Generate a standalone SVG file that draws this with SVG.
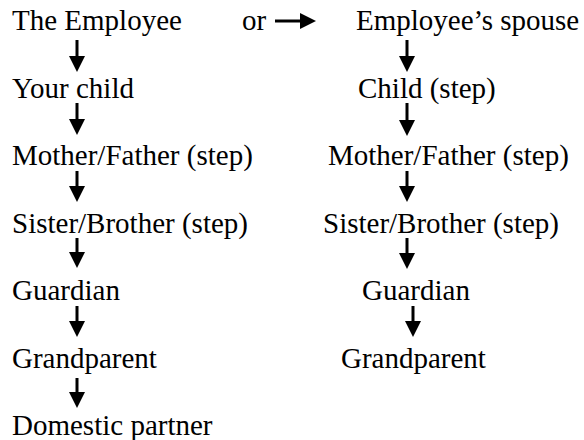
<svg xmlns="http://www.w3.org/2000/svg" width="584" height="440" viewBox="0 0 584 440">
<rect width="584" height="440" fill="#fff"/>
<g id="n-employee"><text x="12" y="30" font-family="Liberation Serif" font-size="29">The Employee</text></g>
<g id="n-or"><text x="242" y="30" font-family="Liberation Serif" font-size="29">or</text></g>
<g id="n-spouse"><text x="356" y="30" font-family="Liberation Serif" font-size="29">Employee’s spouse</text></g>
<g id="n-yourchild"><text x="12" y="97.5" font-family="Liberation Serif" font-size="29">Your child</text></g>
<g id="n-childstep"><text x="358" y="97.5" font-family="Liberation Serif" font-size="29">Child (step)</text></g>
<g id="n-mother-l"><text x="12" y="165" font-family="Liberation Serif" font-size="29">Mother/Father (step)</text></g>
<g id="n-mother-r"><text x="328" y="165" font-family="Liberation Serif" font-size="29">Mother/Father (step)</text></g>
<g id="n-sister-l"><text x="12" y="232.5" font-family="Liberation Serif" font-size="29">Sister/Brother (step)</text></g>
<g id="n-sister-r"><text x="323" y="232.5" font-family="Liberation Serif" font-size="29">Sister/Brother (step)</text></g>
<g id="n-guardian-l"><text x="12" y="300" font-family="Liberation Serif" font-size="29">Guardian</text></g>
<g id="n-guardian-r"><text x="362" y="300" font-family="Liberation Serif" font-size="29">Guardian</text></g>
<g id="n-grand-l"><text x="12" y="367.5" font-family="Liberation Serif" font-size="29">Grandparent</text></g>
<g id="n-grand-r"><text x="341" y="367.5" font-family="Liberation Serif" font-size="29">Grandparent</text></g>
<g id="n-domestic"><text x="12" y="435" font-family="Liberation Serif" font-size="29">Domestic partner</text></g>
<g id="connectors" stroke="#000" stroke-width="3" fill="#000">
<path d="M275,21 H300"/><path d="M300,13 L316,21 L300,29 z" stroke="none"/>
<path d="M77,40 V56"/><path d="M69,56 L77,72 L85,56 z" stroke="none"/>
<path d="M77,103 V119"/><path d="M69,119 L77,135 L85,119 z" stroke="none"/>
<path d="M77,171 V186"/><path d="M69,186 L77,202 L85,186 z" stroke="none"/>
<path d="M77,238 V252"/><path d="M69,252 L77,268 L85,252 z" stroke="none"/>
<path d="M77,306 V321"/><path d="M69,321 L77,337 L85,321 z" stroke="none"/>
<path d="M77,378 V392"/><path d="M69,392 L77,408 L85,392 z" stroke="none"/>
<path d="M407,40 V56"/><path d="M399,56 L407,72 L415,56 z" stroke="none"/>
<path d="M407,103 V120"/><path d="M399,120 L407,136 L415,120 z" stroke="none"/>
<path d="M407,171 V186"/><path d="M399,186 L407,202 L415,186 z" stroke="none"/>
<path d="M407,238 V253"/><path d="M399,253 L407,269 L415,253 z" stroke="none"/>
<path d="M413,306 V321"/><path d="M405,321 L413,337 L421,321 z" stroke="none"/>
</g>
</svg>
